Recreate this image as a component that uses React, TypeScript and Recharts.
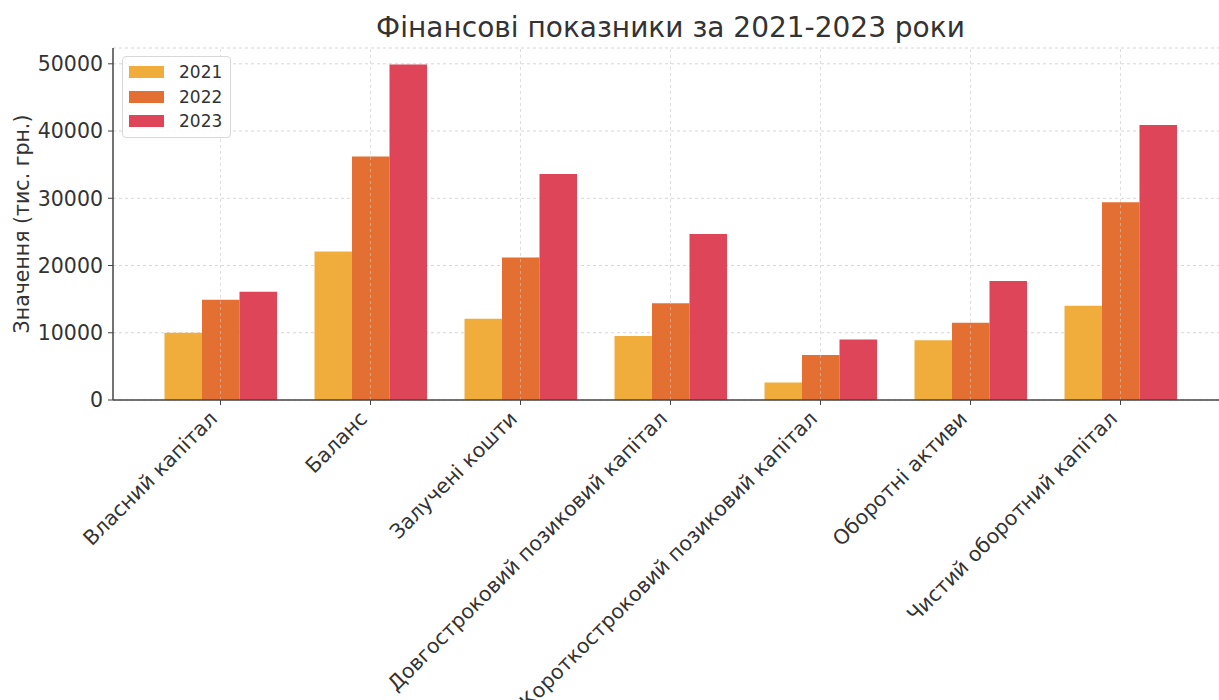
import React from "react";
import {
  BarChart,
  Bar,
  XAxis,
  YAxis,
  CartesianGrid,
  Legend,
  ReferenceLine,
} from "recharts";

const categories = [
  "Власний капітал",
  "Баланс",
  "Залучені кошти",
  "Довгостроковий позиковий капітал",
  "Короткостроковий позиковий капітал",
  "Оборотні активи",
  "Чистий оборотний капітал",
];

const values2021 = [10000, 22100, 12100, 9500, 2600, 8900, 14000];
const values2022 = [14900, 36200, 21200, 14400, 6700, 11500, 29400];
const values2023 = [16100, 49900, 33600, 24700, 9000, 17700, 40900];

const yTicks = [0, 10000, 20000, 30000, 40000, 50000];

const years = ["2021", "2022", "2023"];
const colors = ["#F0AD3B", "#E36F32", "#DE4558"];

const FONT = "'DejaVu Sans', sans-serif";

const data = categories.map((name, i) => ({
  name,
  "2021": values2021[i],
  "2022": values2022[i],
  "2023": values2023[i],
}));

// rotated category labels, right end pinned under the tick
const XTick = (props: any) => {
  const { x, y, payload } = props;
  return (
    <g transform={`translate(${x - 2},${y + 12})`}>
      <text
        x={0}
        y={0}
        textAnchor="end"
        transform="rotate(-45)"
        fontSize={20.5}
        fontFamily={FONT}
        fill="#333"
      >
        {payload.value}
      </text>
    </g>
  );
};

const LegendBox = () => (
  <div
    style={{
      border: "1px solid #d8d8d8",
      borderRadius: 4,
      background: "rgba(255,255,255,0.85)",
      padding: "3px 8px 3px 6px",
      fontFamily: FONT,
      fontSize: 17,
      color: "#333",
    }}
  >
    {years.map((yr, i) => (
      <div key={yr} style={{ display: "flex", alignItems: "center", height: 24.5 }}>
        <span
          style={{
            display: "inline-block",
            width: 35,
            height: 12,
            background: colors[i],
            marginRight: 15,
          }}
        />
        <span>{yr}</span>
      </div>
    ))}
  </div>
);

export default function App() {
  return (
    <div
      style={{
        position: "absolute",
        left: 0,
        top: 0,
        width: 1219,
        height: 700,
        overflow: "hidden",
        background: "#fff",
      }}
    >
      <div
        style={{
          position: "absolute",
          top: 12,
          left: 0,
          width: 1341,
          textAlign: "center",
          fontFamily: FONT,
          fontSize: 28,
          lineHeight: "32px",
          color: "#333",
          zIndex: 2,
        }}
      >
        Фінансові показники за 2021-2023 роки
      </div>
      <BarChart
        width={1240}
        height={700}
        data={data}
        margin={{ top: 48, right: 12, bottom: 270, left: 0 }}
        barGap={0}
      >
        <CartesianGrid stroke="#d6d6d6" strokeDasharray="3 3" vertical={false} />
        <XAxis
          dataKey="name"
          interval={0}
          height={30}
          padding={{ left: 32.5, right: 32.5 }}
          tick={<XTick />}
          tickSize={5}
          tickMargin={3}
          axisLine={{ stroke: "#444", strokeWidth: 1.5 }}
          tickLine={{ stroke: "#444" }}
        />
        <YAxis
          domain={[0, 52350]}
          ticks={yTicks}
          width={113}
          tickSize={5}
          tickMargin={5}
          tick={{ fontSize: 20.5, fill: "#333", fontFamily: FONT }}
          axisLine={{ stroke: "#444", strokeWidth: 1.5 }}
          tickLine={{ stroke: "#444" }}
          label={{
            value: "Значення (тис. грн.)",
            angle: -90,
            position: "center",
            dx: -35,
            style: { fontSize: 20.5, fill: "#333", fontFamily: FONT, textAnchor: "middle" },
          }}
        />
        <Legend
          layout="vertical"
          align="center"
          verticalAlign="middle"
          content={<LegendBox />}
          wrapperStyle={{ position: "absolute", left: 122, top: 56, width: "auto" }}
        />
        {years.map((yr, i) => (
          <Bar
            key={yr}
            dataKey={yr}
            fill={colors[i]}
            barSize={37.5}
            isAnimationActive={false}
          />
        ))}
        {categories.map((c) => (
          <ReferenceLine
            key={c}
            x={c}
            stroke="#c8c8c8"
            strokeOpacity={0.6}
            strokeDasharray="3 3"
          />
        ))}
      </BarChart>
    </div>
  );
}
